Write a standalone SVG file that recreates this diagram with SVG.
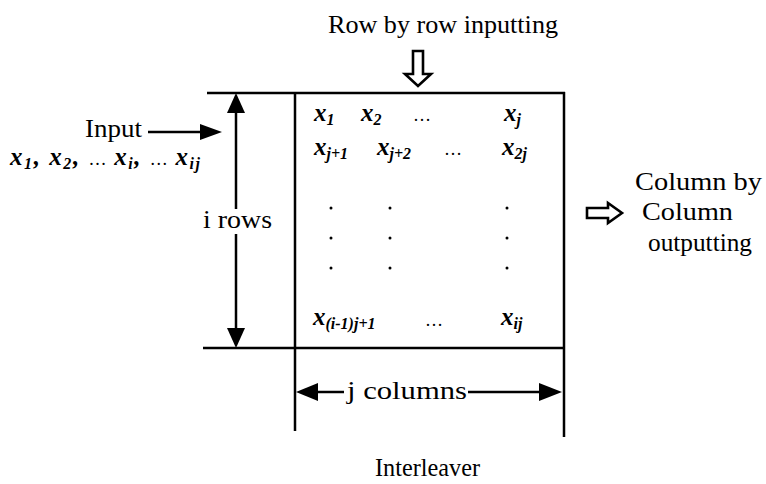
<svg xmlns="http://www.w3.org/2000/svg" width="766" height="484" viewBox="0 0 766 484">
<style>
.t{font-family:"Liberation Serif","Times New Roman",serif;font-size:26px;fill:#000}
.x{font-family:"Liberation Serif","Times New Roman",serif;font-size:25px;font-style:italic;font-weight:bold;fill:#000}
.s{font-size:16px}
.d{font-family:"Liberation Serif","Times New Roman",serif;font-size:18px;fill:#000}
.ln{stroke:#000;stroke-width:2.5;fill:none}
.hl{stroke:#000;stroke-width:2.6;fill:#fff}
</style>
<rect width="766" height="484" fill="#fff"/>
<g id="interleaver">
<line class="ln" x1="207" y1="93" x2="565" y2="93"/>
<line class="ln" x1="203" y1="348" x2="565" y2="348"/>
<line class="ln" x1="295" y1="93" x2="295" y2="431"/>
<line class="ln" x1="564" y1="92" x2="564" y2="437"/>
<text class="x" x="314" y="121">x<tspan class="s" dy="4">1</tspan></text>
<text class="x" x="361" y="121">x<tspan class="s" dy="4">2</tspan></text>
<text class="d" x="413" y="121">…</text>
<text class="x" x="504" y="121">x<tspan class="s" dy="4">j</tspan></text>
<text class="x" x="314" y="155">x<tspan class="s" dy="4">j+1</tspan></text>
<text class="x" x="377" y="155">x<tspan class="s" dy="4">j+2</tspan></text>
<text class="d" x="444" y="155">…</text>
<text class="x" x="502" y="155">x<tspan class="s" dy="4">2j</tspan></text>
<g fill="#000">
<circle cx="331" cy="208" r="1.5"/><circle cx="390" cy="208" r="1.5"/><circle cx="507" cy="208" r="1.5"/>
<circle cx="331" cy="238" r="1.5"/><circle cx="390" cy="238" r="1.5"/><circle cx="507" cy="238" r="1.5"/>
<circle cx="331" cy="268" r="1.5"/><circle cx="390" cy="268" r="1.5"/><circle cx="507" cy="268" r="1.5"/>
</g>
<text class="x" x="313" y="325">x<tspan class="s" dy="4">(i-1)j+1</tspan></text>
<text class="d" x="425" y="326">…</text>
<text class="x" x="501" y="325">x<tspan class="s" dy="4">ij</tspan></text>
</g>
<g id="input">
<text class="t" x="85" y="137" textLength="57" lengthAdjust="spacingAndGlyphs">Input</text>
<text class="x" x="10" y="165" textLength="190" lengthAdjust="spacing">x<tspan class="s" dy="4">1</tspan><tspan dy="-4">, x</tspan><tspan class="s" dy="4">2</tspan><tspan dy="-4">, </tspan><tspan font-weight="normal" font-style="normal" font-size="18"> … </tspan><tspan>x</tspan><tspan class="s" dy="4">i</tspan><tspan dy="-4">, </tspan><tspan font-weight="normal" font-style="normal" font-size="18">… </tspan><tspan>x</tspan><tspan class="s" dy="4">ij</tspan></text>
</g>
<g id="row-label">
<text class="t" x="328" y="33" textLength="230" lengthAdjust="spacingAndGlyphs">Row by row inputting</text>
</g>
<g id="col-label">
<text class="t" x="635" y="190" textLength="127" lengthAdjust="spacingAndGlyphs">Column by</text>
<text class="t" x="642" y="220" textLength="91" lengthAdjust="spacingAndGlyphs">Column</text>
<text class="t" x="648" y="251" textLength="104" lengthAdjust="spacingAndGlyphs">outputting</text>
</g>
<g id="i-rows">
<text class="t" x="203" y="228" textLength="69" lengthAdjust="spacingAndGlyphs">i rows</text>
</g>
<g id="j-columns">
<text class="t" x="347" y="399" textLength="120" lengthAdjust="spacingAndGlyphs">j columns</text>
</g>
<g id="title">
<text class="t" x="375" y="476" textLength="105" lengthAdjust="spacingAndGlyphs">Interleaver</text>
</g>
<g id="connectors">
<line class="ln" x1="148" y1="132" x2="202" y2="132"/>
<polygon points="200,124 222,132 200,140" fill="#000"/>
<line class="ln" x1="236" y1="110" x2="236" y2="209"/>
<polygon points="227,113 236,93 245,113" fill="#000"/>
<line class="ln" x1="236" y1="234" x2="236" y2="330"/>
<polygon points="227,328 236,348 245,328" fill="#000"/>
<line class="ln" x1="315" y1="392" x2="344" y2="392"/>
<polygon points="318,383 296,392 318,401" fill="#000"/>
<line class="ln" x1="468" y1="392" x2="541" y2="392"/>
<polygon points="539,383 562,392 539,401" fill="#000"/>
<path class="hl" d="M413,51 L423,51 L423,74 L431,74 L418,86 L405,74 L413,74 Z"/>
<path class="hl" d="M587,208 L608,208 L608,203 L622,213 L608,223 L608,218 L587,218 Z"/>
</g>
</svg>
